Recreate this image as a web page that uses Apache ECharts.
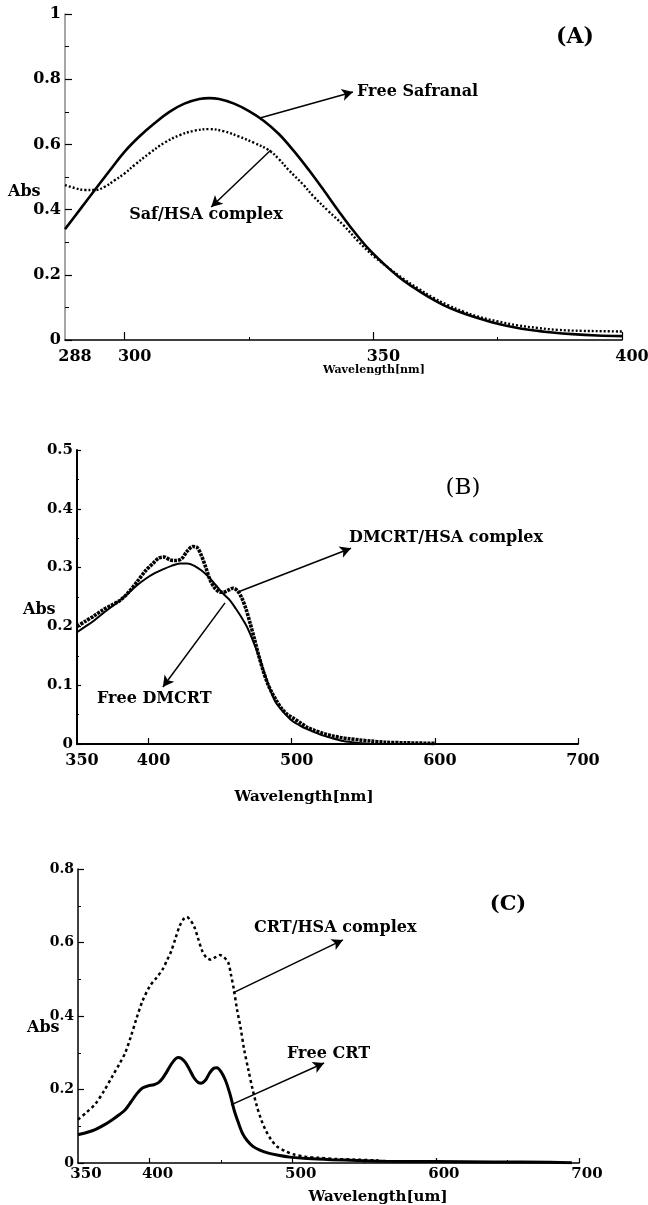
<!DOCTYPE html>
<html>
<head>
<meta charset="utf-8">
<script src="https://cdn.jsdelivr.net/npm/echarts@6/dist/echarts.min.js"></script>
<style>
  html, body { margin: 0; padding: 0; background: #fff; }
  #chart { width: 648px; height: 1205px; }
</style>
</head>
<body>
<div id="chart"></div>
<script>
// (A) safranal
const safFree = [[288, 0.34], [291, 0.40], [294, 0.46], [297, 0.52], [300, 0.578], [303, 0.625], [306, 0.665],
    [309, 0.70], [312, 0.725], [315, 0.739], [317, 0.742], [319, 0.739], [322, 0.725], [325, 0.702], [328, 0.672],
    [331, 0.632], [334, 0.58], [337, 0.522], [340, 0.46], [343, 0.396], [346, 0.335], [349, 0.28], [352, 0.235],
    [355, 0.195], [358, 0.162], [361, 0.133], [364, 0.108], [367, 0.088], [370, 0.072], [374, 0.054], [378, 0.04],
    [382, 0.03], [386, 0.023], [390, 0.018], [395, 0.014], [400, 0.012]];
const safComplex = [[288, 0.475], [290, 0.466], [292, 0.46], [294, 0.46], [296, 0.47], [298, 0.49], [300, 0.511],
    [302, 0.537], [305, 0.573], [308, 0.605], [311, 0.628], [314, 0.642], [317, 0.647], [320, 0.64], [323, 0.624],
    [326, 0.605], [329, 0.582], [331, 0.555], [333, 0.521], [336, 0.475], [338, 0.44], [341, 0.395], [344, 0.352],
    [347, 0.302], [350, 0.258], [353, 0.222], [356, 0.188], [359, 0.158], [362, 0.13], [365, 0.107], [368, 0.088],
    [371, 0.072], [375, 0.057], [379, 0.045], [383, 0.037], [387, 0.031], [392, 0.028], [396, 0.027], [400, 0.026]];

// (B) DMCRT
const dmcrtFree = [[350, 0.19], [356, 0.2], [362, 0.21], [368, 0.222], [374, 0.233], [380, 0.244], [386, 0.257],
    [392, 0.27], [398, 0.281], [404, 0.29], [410, 0.297], [416, 0.303], [422, 0.307], [427, 0.307], [432, 0.303],
    [437, 0.295], [442, 0.284], [447, 0.27], [452, 0.256], [457, 0.244], [461, 0.23], [465, 0.215], [469, 0.198],
    [473, 0.175], [477, 0.15], [481, 0.12], [485, 0.092], [489, 0.07], [494, 0.055], [500, 0.04], [506, 0.031],
    [512, 0.024], [520, 0.016], [528, 0.01], [536, 0.005], [545, 0.002], [555, 0]];
const dmcrtComplex = [[350, 0.2], [356, 0.209], [362, 0.218], [368, 0.228], [374, 0.236], [380, 0.244], [386, 0.258],
    [392, 0.276], [398, 0.295], [403, 0.307], [407, 0.316], [411, 0.318], [415, 0.313], [419, 0.312], [423, 0.315],
    [427, 0.328], [431, 0.336], [434, 0.334], [437, 0.32], [440, 0.3], [443, 0.279], [446, 0.266], [449, 0.259],
    [452, 0.258], [456, 0.262], [459, 0.265], [462, 0.261], [465, 0.249], [468, 0.23], [471, 0.205], [474, 0.178],
    [477, 0.15], [480, 0.125], [483, 0.104], [486, 0.088], [489, 0.075], [493, 0.06], [497, 0.05], [501, 0.044],
    [506, 0.036], [511, 0.028], [516, 0.023], [522, 0.018], [528, 0.014], [534, 0.011], [540, 0.009], [547, 0.007],
    [555, 0.005], [565, 0.003], [580, 0.002], [600, 0.001]];

// (C) CRT
const crtFree = [[350, 0.077], [356, 0.083], [362, 0.091], [368, 0.103], [374, 0.118], [379, 0.132], [383, 0.145],
    [387, 0.166], [391, 0.188], [395, 0.204], [399, 0.21], [403, 0.213], [406, 0.218], [409, 0.23], [412, 0.248],
    [415, 0.268], [418, 0.283], [420, 0.287], [422, 0.285], [425, 0.274], [428, 0.254], [431, 0.232], [434, 0.219],
    [436, 0.217], [439, 0.225], [442, 0.245], [445, 0.258], [447, 0.259], [450, 0.248], [453, 0.225], [456, 0.19],
    [459, 0.145], [462, 0.11], [465, 0.08], [468, 0.062], [472, 0.046], [477, 0.035], [483, 0.027], [490, 0.021],
    [498, 0.016], [510, 0.012], [527, 0.009], [545, 0.007], [565, 0.005], [600, 0.004], [640, 0.003], [680, 0.002],
    [695, 0.001]];
const crtComplex = [[350, 0.118], [356, 0.138], [362, 0.16], [368, 0.195], [374, 0.236], [379, 0.27], [383, 0.3],
    [387, 0.345], [391, 0.395], [395, 0.44], [400, 0.48], [405, 0.505], [409, 0.526], [412, 0.55], [415, 0.575],
    [418, 0.61], [421, 0.645], [424, 0.665], [426, 0.67], [428, 0.663], [431, 0.645], [434, 0.61], [437, 0.575],
    [440, 0.558], [443, 0.553], [446, 0.56], [449, 0.566], [452, 0.56], [455, 0.545], [457, 0.51], [459, 0.47],
    [461, 0.42], [463.5, 0.37], [466, 0.31], [469, 0.254], [472, 0.2], [475, 0.154], [478, 0.118], [481, 0.09],
    [485, 0.063], [489, 0.045], [495, 0.032], [501, 0.023], [509, 0.017], [518, 0.014], [530, 0.011], [545, 0.009],
    [560, 0.007]];

// tick labels / tick positions
const aXLabels = [288, 300, 350, 400];
const aXTicks = [300, 350, 400];
const aXMinor = [325, 375];
const bcXLabels = [350, 400, 500, 600, 700];
const bcXTicks = [400, 500, 600, 700];
const cXMinor = [450, 550, 650];

// arrows: [from, to] in data coords
const aArrows = [[[327.2, 0.681], [345.9, 0.761]], [[329.4, 0.583], [317.4, 0.408]]];
const bArrows = [[[462.5, 0.2585], [541.4, 0.333]], [[453.4, 0.24], [410, 0.097]]];
const cArrows = [[[458.3, 0.463], [535.1, 0.607]], [[456.9, 0.158], [521.9, 0.272]]];

const FONT = 'DejaVu Serif';

function arrowLines(list) {
    return {
        silent: true,
        symbol: ['none', 'arrow'],
        symbolSize: [9, 11],
        label: {show: false},
        lineStyle: {color: '#000', width: 1.5, type: 'solid'},
        emphasis: {disabled: true},
        animation: false,
        data: list.map(a => [{coord: a[0]}, {coord: a[1]}])
    };
}

function xMain(grid, min, max, labels, ticks, opt) {
    return {
        type: 'value', gridIndex: grid, min: min, max: max, position: 'bottom',
        axisLine: {lineStyle: {color: '#000', width: opt.lw}},
        axisTick: {show: true, inside: true, length: opt.tl, customValues: ticks, lineStyle: {color: '#000', width: 1.2}},
        axisLabel: {
            customValues: labels, margin: opt.margin, color: '#000',
            fontFamily: FONT, fontWeight: 'bold', fontSize: opt.fs, padding: [0, 0, 0, opt.shift]
        },
        splitLine: {show: false}
    };
}

function xMinor(grid, min, max, ticks) {
    return {
        type: 'value', gridIndex: grid, min: min, max: max, position: 'bottom', offset: 0,
        axisLine: {show: false},
        axisTick: {show: true, inside: true, length: 3, customValues: ticks, lineStyle: {color: '#000'}},
        axisLabel: {show: false},
        splitLine: {show: false}
    };
}

function yMain(grid, max, interval, opt) {
    return {
        type: 'value', gridIndex: grid, min: 0, max: max, interval: interval,
        axisLine: {show: true, lineStyle: {color: opt.color, width: opt.lw}},
        axisTick: {show: true, inside: true, length: opt.tl, lineStyle: {color: '#000', width: 1.2}},
        minorTick: {show: true, splitNumber: 2, length: opt.ml, lineStyle: {color: '#000'}},
        axisLabel: {margin: 4, color: '#000', fontFamily: FONT, fontWeight: 'bold', fontSize: opt.fs},
        splitLine: {show: false}
    };
}

function txt(x, y, text, size, align, weight) {
    return {
        type: 'text', x: x, y: y, silent: true,
        style: {
            text: text, fill: '#000', align: align || 'left', verticalAlign: 'middle',
            font: (weight || 'bold') + ' ' + size + 'px "' + FONT + '"'
        }
    };
}

const chart = echarts.init(document.getElementById('chart'), null, {renderer: 'canvas'});

chart.setOption({
    backgroundColor: '#fff',
    animation: false,
    grid: [
        {left: 65, top: 14, width: 557, height: 326, outerBoundsMode: 'none'},
        {left: 77, top: 450, width: 501, height: 294, outerBoundsMode: 'none'},
        {left: 78, top: 869, width: 501, height: 294, outerBoundsMode: 'none'}
    ],
    xAxis: [
        xMain(0, 288, 400, aXLabels, aXTicks, {lw: 1.5, tl: 8, margin: 9, fs: 16, shift: 20}),
        xMinor(0, 288, 400, aXMinor),
        xMain(1, 350, 700, bcXLabels, bcXTicks, {lw: 2, tl: 6, margin: 9, fs: 16, shift: 10}),
        xMain(2, 350, 700, bcXLabels, bcXTicks, {lw: 1.5, tl: 5, margin: 4, fs: 15, shift: 16}),
        xMinor(2, 350, 700, cXMinor)
    ],
    yAxis: [
        yMain(0, 1, 0.2, {color: '#8a8a8a', lw: 1.5, tl: 7, ml: 4, fs: 16}),
        yMain(1, 0.5, 0.1, {color: '#000', lw: 2, tl: 4, ml: 2, fs: 15}),
        yMain(2, 0.8, 0.2, {color: '#000', lw: 1.5, tl: 6, ml: 3, fs: 14})
    ],
    series: [
        {
            name: 'Free Safranal', type: 'line', xAxisIndex: 0, yAxisIndex: 0, data: safFree,
            smooth: 0.4, showSymbol: false, lineStyle: {color: '#000', width: 2.6},
            markLine: arrowLines(aArrows)
        },
        {
            name: 'Saf/HSA complex', type: 'line', xAxisIndex: 0, yAxisIndex: 0, data: safComplex,
            smooth: 0.4, showSymbol: false, lineStyle: {color: '#000', width: 2.4, type: [2, 2]}
        },
        {
            name: 'Free DMCRT', type: 'line', xAxisIndex: 2, yAxisIndex: 1, data: dmcrtFree,
            smooth: 0.3, showSymbol: false, lineStyle: {color: '#000', width: 2},
            markLine: arrowLines(bArrows)
        },
        {
            name: 'DMCRT/HSA complex', type: 'line', xAxisIndex: 2, yAxisIndex: 1, data: dmcrtComplex,
            smooth: 0.3, showSymbol: false, lineStyle: {color: '#000', width: 3.6, type: [3, 1]}
        },
        {
            name: 'Free CRT', type: 'line', xAxisIndex: 3, yAxisIndex: 2, data: crtFree,
            smooth: 0.3, showSymbol: false, lineStyle: {color: '#000', width: 3},
            markLine: arrowLines(cArrows)
        },
        {
            name: 'CRT/HSA complex', type: 'line', xAxisIndex: 3, yAxisIndex: 2, data: crtComplex,
            smooth: 0.3, showSymbol: false, lineStyle: {color: '#000', width: 2.5, type: [3, 3]}
        }
    ],
    graphic: [
        // panel A
        txt(575, 37, '(A)', 22, 'center'),
        txt(8, 192, 'Abs', 16),
        txt(374, 370, 'Wavelength[nm]', 11, 'center'),
        txt(357, 92, 'Free Safranal', 16),
        txt(206, 215, 'Saf/HSA complex', 16, 'center'),
        // panel B
        txt(463, 488, '(B)', 23, 'center', 'normal'),
        txt(23, 610, 'Abs', 16),
        txt(349, 538, 'DMCRT/HSA complex', 16),
        txt(97, 699, 'Free DMCRT', 16),
        txt(304, 797, 'Wavelength[nm]', 15, 'center'),
        // panel C
        txt(508, 905, '(C)', 21, 'center'),
        txt(27, 1028, 'Abs', 16),
        txt(254, 928, 'CRT/HSA complex', 16),
        txt(287, 1054, 'Free CRT', 16),
        txt(378, 1197, 'Wavelength[um]', 15, 'center')
    ]
});
</script>
</body>
</html>
